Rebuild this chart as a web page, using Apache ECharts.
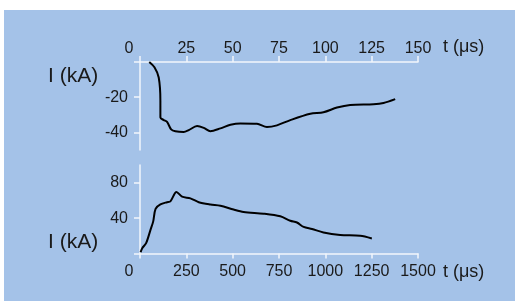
<!DOCTYPE html>
<html>
<head>
<meta charset="utf-8">
<script src="https://cdn.jsdelivr.net/npm/echarts@6/dist/echarts.min.js"></script>
<style>
  html, body { margin: 0; padding: 0; background: #fff; }
  #wrap { position: relative; width: 515px; height: 302px; background: #fff; }
  #panel { position: absolute; left: 4px; top: 10px; width: 511px; height: 291px; background: #a4c2e8; }
  #chart { position: absolute; left: 0; top: 0; width: 515px; height: 302px; }
</style>
</head>
<body>
<div id="wrap">
  <div id="panel"></div>
  <div id="chart"></div>
</div>
<script>
// upper trace: t in μs (0-150 scale), current in kA
var topT = [5, 7.8, 10.1, 11, 11, 12.8, 14.6, 16.8, 19.1, 23.6, 26.3, 30.8, 34.4, 38, 43.4, 48.8, 54.1, 63.1, 68.5, 73.9, 81.1, 91.9, 99, 106.3, 113.4, 126, 131.4, 137.7];
var topI = [0, -3, -8.8, -22, -31.6, -33, -34, -38.3, -39.4, -39.8, -38.7, -36.4, -37.4, -39.3, -37.7, -35.7, -34.9, -35.1, -37, -36, -33, -29.4, -28.6, -25.9, -24.4, -24, -23.3, -21.1];

// lower trace: t in μs (0-1500 scale), current in kA
var botT = [3, 12, 33, 57, 71, 84, 110, 146, 164, 197, 227, 272, 317, 380, 434, 505, 559, 667, 757, 811, 847, 883, 928, 990, 1080, 1188, 1251];
var botI = [1.4, 6, 11.7, 27, 36, 50.5, 55.4, 58, 58.9, 69.5, 64.2, 62.3, 58, 55.4, 54, 49.7, 47, 45, 42, 37, 35, 30, 27.7, 23.8, 21, 20, 17];

var topYLabels = [-20, -40];
var botYLabels = [80, 40];
var axisTitleX = 't (μs)';
var axisTitleY = 'I (kA)';

function zip(a, b) {
  return a.map(function (v, i) { return [v, b[i]]; });
}

var txt = '#1a1a1a';
var axisFont = '"Liberation Sans", sans-serif';
var axisWhite = { color: '#f2f6fc', width: 1.5 };

function xLabel(v) {
  return v === 0 ? '{z|0}' : String(v);
}

var chart = echarts.init(document.getElementById('chart'));

function label(text, x, y, size) {
  return {
    type: 'text', x: x, y: y,
    style: { text: text, font: size + 'px "Liberation Sans", sans-serif', fill: txt, verticalAlign: 'middle', align: 'left' }
  };
}

var option = {
  animation: false,
  backgroundColor: 'transparent',
  grid: [
    { left: 140, right: 97, top: 62, height: 88 },
    { left: 140, right: 97, top: 165, height: 88.5 }
  ],
  xAxis: [
    {
      gridIndex: 0, type: 'value', position: 'top',
      min: 0, max: 150, interval: 25,
      axisLine: { onZero: false, lineStyle: axisWhite },
      axisTick: { show: true, length: 6, lineStyle: axisWhite },
      axisLabel: {
        color: txt, fontFamily: axisFont, fontSize: 16, margin: 5,
        formatter: xLabel, rich: { z: { padding: [0, 22, 0, 0] } }
      },
      splitLine: { show: false }
    },
    {
      gridIndex: 1, type: 'value', position: 'bottom',
      min: 0, max: 1500, interval: 250,
      axisLine: { onZero: false, lineStyle: axisWhite },
      axisTick: { show: true, length: 5, lineStyle: axisWhite },
      axisLabel: {
        color: txt, fontFamily: axisFont, fontSize: 16, margin: 10,
        formatter: xLabel, rich: { z: { padding: [0, 22, 0, 0] } }
      },
      splitLine: { show: false }
    }
  ],
  yAxis: [
    {
      gridIndex: 0, type: 'value', min: -50, max: 0,
      axisLine: { show: true, onZero: false, lineStyle: axisWhite },
      axisTick: { show: true, length: 6, lineStyle: axisWhite, customValues: [0, -20, -40] },
      axisLabel: { color: txt, fontFamily: axisFont, fontSize: 16, margin: 12, customValues: topYLabels },
      splitLine: { show: false }
    },
    {
      gridIndex: 1, type: 'value', min: 0, max: 100,
      axisLine: { show: true, onZero: false, lineStyle: axisWhite },
      axisTick: { show: true, length: 6, lineStyle: axisWhite, customValues: [0, 40, 80] },
      axisLabel: { color: txt, fontFamily: axisFont, fontSize: 16, margin: 12, customValues: botYLabels },
      splitLine: { show: false }
    }
  ],
  graphic: [
    label(axisTitleY, 48, 76, 21),
    label(axisTitleY, 48, 242, 21),
    label(axisTitleX, 443, 47, 18),
    label(axisTitleX, 443, 272, 18)
  ],
  series: [
    {
      type: 'line', xAxisIndex: 0, yAxisIndex: 0,
      data: zip(topT, topI), smooth: 0.3, showSymbol: false,
      lineStyle: { color: '#000', width: 2 }
    },
    {
      type: 'line', xAxisIndex: 1, yAxisIndex: 1,
      data: zip(botT, botI), smooth: 0.3, showSymbol: false,
      lineStyle: { color: '#000', width: 2 }
    }
  ]
};

chart.setOption(option);
</script>
</body>
</html>
